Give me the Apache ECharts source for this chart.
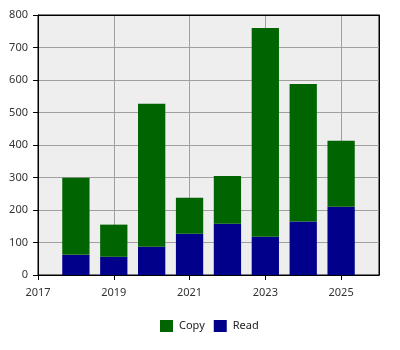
<!DOCTYPE html>
<html>
<head>
<meta charset="utf-8">
<script src="https://cdn.jsdelivr.net/npm/echarts@6/dist/echarts.min.js"></script>
<style>
html,body{margin:0;padding:0;background:#fff;}
#chart{width:400px;height:350px;}
</style>
</head>
<body>
<div id="chart"></div>
<script>
// Data
var axisYears = ['2017','2018','2019','2020','2021','2022','2023','2024','2025','2026'];
var tickYears = ['2017','2019','2021','2023','2025'];
var years = ['2018','2019','2020','2021','2022','2023','2024','2025'];
var readValues = [62, 56, 87, 127, 158, 118, 165, 210];
var copyValues = [237, 99, 440, 111, 147, 642, 423, 203];
var yTicks = [0, 100, 200, 300, 400, 500, 600, 700, 800];

function alignTo(values) {
  return axisYears.map(function (y) {
    var i = years.indexOf(y);
    return i >= 0 ? values[i] : '-';
  });
}
function isTick(index, value) {
  return tickYears.indexOf(String(value != null ? value : axisYears[index])) >= 0;
}

var chart = echarts.init(document.getElementById('chart'), null, {renderer: 'canvas'});
var font = 'Noto Sans';
chart.setOption({
  animation: false,
  textStyle: {fontFamily: font},
  legend: {
    data: ['Copy', 'Read'],
    bottom: 13,
    left: 155,
    itemWidth: 13,
    itemHeight: 12,
    itemGap: 9,
    icon: 'rect',
    textStyle: {fontFamily: font, fontSize: 11, color: '#222', padding: [0, 0, 0, 1]}
  },
  grid: {
    left: 38, right: 21, top: 15, bottom: 75,
    show: true,
    backgroundColor: '#eeeeee',
    borderColor: '#000',
    borderWidth: 1,
    containLabel: false
  },
  xAxis: [{
    type: 'category',
    data: axisYears,
    boundaryGap: false,
    axisLine: {lineStyle: {color: '#000', width: 1}},
    axisTick: {
      length: 5,
      lineStyle: {color: '#000'},
      interval: function (index, value) { return isTick(index, value); }
    },
    axisLabel: {
      color: '#333', fontSize: 11, fontFamily: font, margin: 12,
      interval: function (index, value) { return isTick(index, value); }
    },
    splitLine: {
      show: true,
      lineStyle: {color: '#a0a0a0', width: 1},
      interval: function (index, value) { return isTick(index, value); }
    }
  }, {
    type: 'category',
    position: 'top',
    data: axisYears,
    boundaryGap: false,
    axisLine: {show: true, onZero: false, lineStyle: {color: '#000', width: 1}},
    axisTick: {show: false},
    axisLabel: {show: false},
    splitLine: {show: false}
  }],
  yAxis: [{
    type: 'value',
    min: yTicks[0],
    max: yTicks[yTicks.length - 1],
    interval: 100,
    axisLine: {show: true, lineStyle: {color: '#000', width: 1}},
    axisTick: {show: true, length: 5, lineStyle: {color: '#000'}},
    axisLabel: {color: '#333', fontSize: 11, fontFamily: font, margin: 10},
    splitLine: {show: true, lineStyle: {color: '#a0a0a0', width: 1}}
  }, {
    type: 'value',
    position: 'right',
    min: yTicks[0],
    max: yTicks[yTicks.length - 1],
    interval: 100,
    axisLine: {show: true, onZero: false, lineStyle: {color: '#000', width: 1}},
    axisTick: {show: false},
    axisLabel: {show: false},
    splitLine: {show: false}
  }],
  series: [
    {
      name: 'Read',
      type: 'bar',
      stack: 'total',
      barWidth: '72%',
      itemStyle: {color: '#00008b'},
      data: alignTo(readValues)
    },
    {
      name: 'Copy',
      type: 'bar',
      stack: 'total',
      barWidth: '72%',
      itemStyle: {color: '#006400'},
      data: alignTo(copyValues)
    }
  ]
});
</script>
</body>
</html>
